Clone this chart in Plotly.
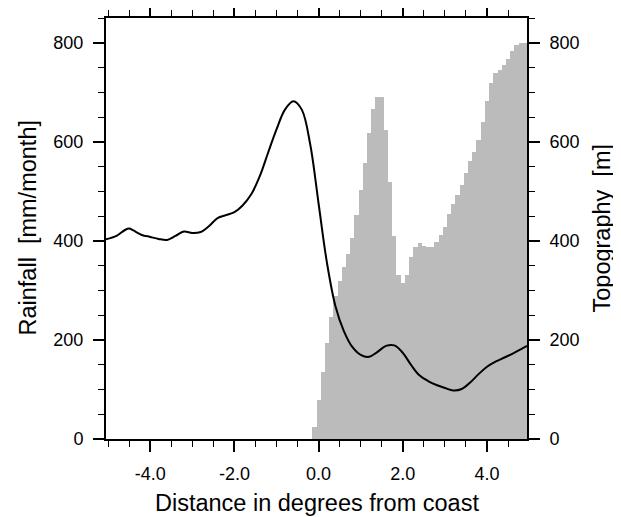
import plotly.graph_objects as go

# rainfall curve (mm/month)
rain_x = [-5.05, -4.8, -4.6, -4.5, -4.4, -4.2, -4.0, -3.8, -3.6, -3.4, -3.2, -3.0,
          -2.8, -2.6, -2.4, -2.2, -2.0, -1.8, -1.6, -1.4, -1.2, -1.0, -0.8, -0.6,
          -0.4, -0.2, 0.0, 0.2, 0.4, 0.6, 0.8, 1.0, 1.2, 1.4, 1.6, 1.8, 2.0, 2.2,
          2.4, 2.6, 2.8, 3.0, 3.2, 3.4, 3.6, 3.8, 4.0, 4.2, 4.4, 4.6, 4.8, 4.95]
rain_mm = [403, 410, 422, 425, 421, 412, 408, 404, 402, 410, 419, 416,
           418, 430, 446, 452, 458, 472, 494, 530, 578, 625, 665, 682,
           665, 595, 475, 355, 268, 218, 186, 170, 166, 176, 188, 189, 174, 149,
           128, 117, 109, 103, 98, 101, 114, 131, 146, 156, 164, 172, 181, 188]

# topography bars (m), 0.1 degree bins
topo_x = [-0.1, 0.0, 0.1, 0.2, 0.3, 0.4, 0.5, 0.6, 0.7, 0.8, 0.9,
          1.0, 1.1, 1.2, 1.3, 1.4, 1.5, 1.6, 1.7, 1.8, 1.9,
          2.0, 2.1, 2.2, 2.3, 2.4, 2.5, 2.6, 2.7, 2.8, 2.9,
          3.0, 3.1, 3.2, 3.3, 3.4, 3.5, 3.6, 3.7, 3.8, 3.9,
          4.0, 4.1, 4.2, 4.3, 4.4, 4.5, 4.6, 4.7, 4.8, 4.9]
topo_m = [25, 78, 135, 194, 246, 288, 320, 347, 374, 406, 452,
          503, 558, 617, 666, 691, 691, 624, 518, 409, 331,
          315, 331, 367, 387, 395, 390, 387, 388, 397, 411,
          429, 454, 475, 493, 513, 538, 561, 580, 604, 641,
          683, 718, 738, 746, 756, 768, 784, 795, 800, 800]

x_ticks = [-4, -2, 0, 2, 4]
x_labels = ['-4.0', '-2.0', '0.0', '2.0', '4.0']
y_ticks = [0, 200, 400, 600, 800]

font = 'Liberation Sans, Arial, sans-serif'
title_font = dict(family=font, size=23.5, color='black')

fig = go.Figure()
fig.add_trace(go.Bar(x=topo_x, y=topo_m, width=0.1, marker_color='#bbbbbb',
                     marker_line_width=0, yaxis='y', name='Topography'))
fig.add_trace(go.Scatter(x=rain_x, y=rain_mm, mode='lines', line_shape='spline',
                         line=dict(color='black', width=2), yaxis='y2',
                         name='Rainfall'))

yax = dict(range=[0, 850], tickvals=y_ticks, showgrid=False, zeroline=False,
           showline=True, linecolor='black', linewidth=2, automargin=False,
           ticks='outside', ticklen=11, tickwidth=1.5, tickcolor='black',
           minor=dict(dtick=50, tick0=0, ticks='outside', ticklen=6,
                      tickwidth=1, tickcolor='black'),
           tickfont=dict(family=font, size=18, color='black'),
           ticklabelstandoff=6)

# the page body adds an 8px offset, so the figure is 8px smaller
fig.update_layout(
    width=613, height=509,
    margin=dict(l=98, r=94, t=10, b=78),
    paper_bgcolor='white', plot_bgcolor='white',
    showlegend=False, bargap=0,
    xaxis=dict(range=[-5.05, 4.95], tickvals=x_ticks, ticktext=x_labels,
               showgrid=False, zeroline=False, showline=True, mirror='ticks',
               linecolor='black', linewidth=2, automargin=False,
               ticks='outside', ticklen=11, tickwidth=1.5, tickcolor='black',
               minor=dict(dtick=0.5, tick0=0, ticks='outside', ticklen=6,
                          tickwidth=1, tickcolor='black'),
               tickfont=dict(family=font, size=18, color='black'),
               ticklabelstandoff=6),
    yaxis=dict(side='right', **yax),
    yaxis2=dict(side='left', overlaying='y', **yax),
    annotations=[
        dict(text='Distance in degrees from coast', xref='paper', yref='paper',
             x=0.5, y=0, xanchor='center', yanchor='middle', yshift=-64,
             showarrow=False, font=title_font),
        dict(text='Rainfall  [mm/month]', xref='paper', yref='paper',
             x=0, y=0.5, xanchor='center', yanchor='middle', xshift=-79,
             textangle=-90, showarrow=False, font=title_font),
        dict(text='Topography  [m]', xref='paper', yref='paper',
             x=1, y=0.5, xanchor='center', yanchor='middle', xshift=74,
             textangle=-90, showarrow=False, font=title_font),
    ],
)

fig.write_html('out.html')
